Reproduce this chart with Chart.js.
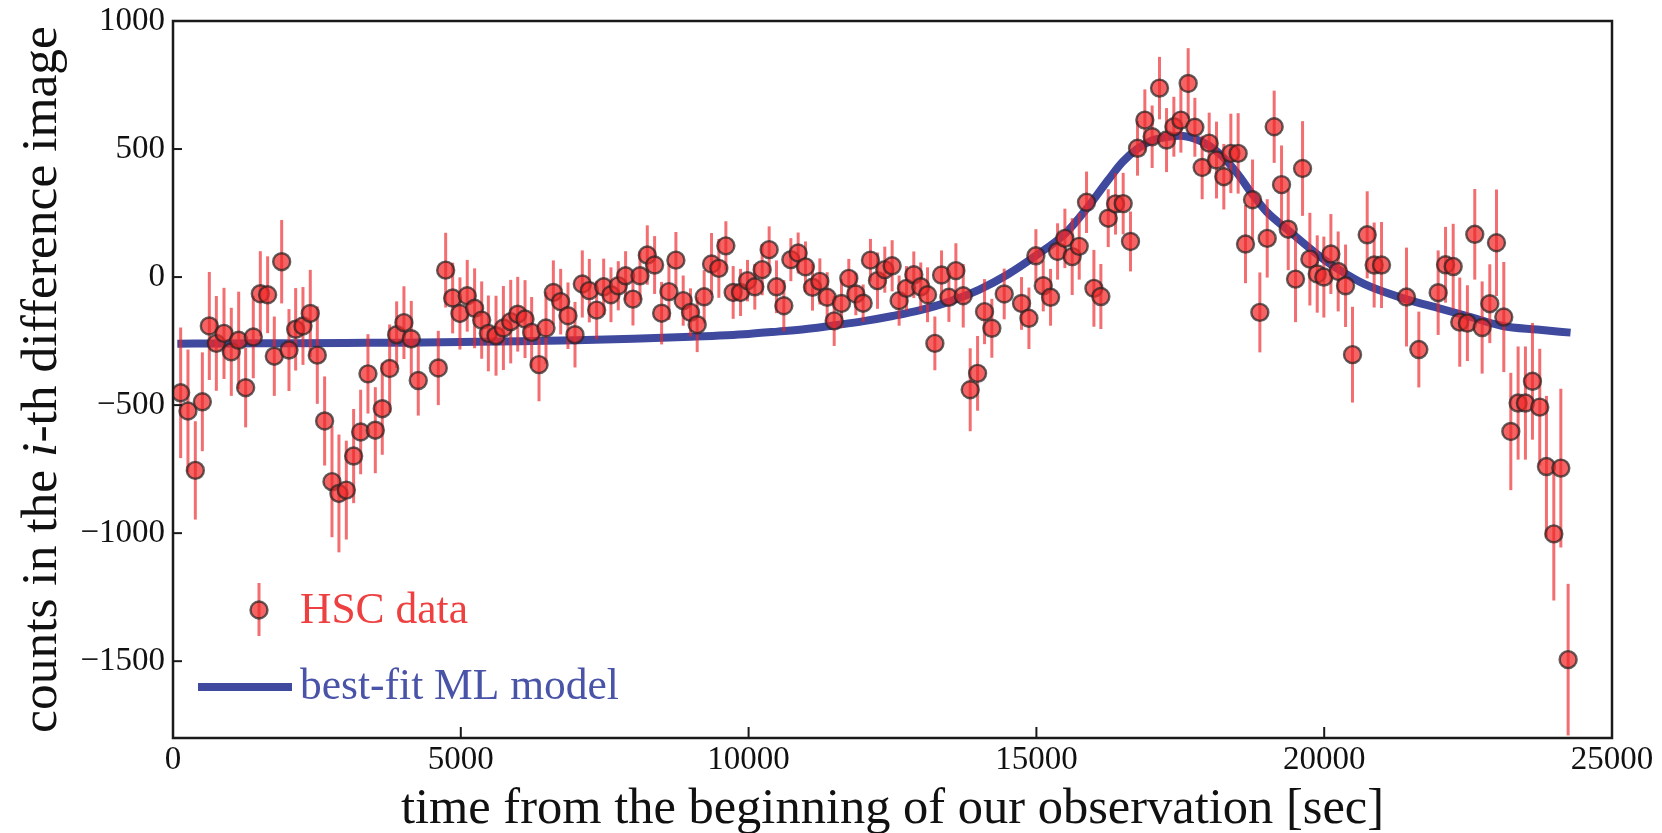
<!DOCTYPE html>
<html>
<head>
<meta charset="utf-8">
<title>HSC light curve</title>
<script src="https://cdn.jsdelivr.net/npm/chart.js@4.4.1/dist/chart.umd.min.js"></script>
<style>
  html, body { margin: 0; padding: 0; background: #fff; }
  #wrap { width: 1662px; height: 833px; }
</style>
</head>
<body>
<div id="wrap"><canvas id="lc" width="1662" height="833"></canvas></div>
<script>
// ── HSC photometry (seconds from start, counts, 1σ error) ─────────
const times = [
  133, 260, 388, 510, 631, 753, 886, 1013, 1141, 1262, 1395, 1517, 1644, 1760, 1888, 2015, 2131,
  2258, 2385, 2507, 2634, 2762, 2883, 3011, 3138, 3260, 3387, 3515, 3636, 3764, 3885, 4012, 4140, 4261,
  4609, 4737, 4858, 4985, 5112, 5240, 5363, 5479, 5612, 5740, 5867, 5989, 6116, 6231, 6359, 6480, 6608,
  6735, 6862, 6984, 7111, 7233, 7360, 7482, 7609, 7736, 7863, 7991, 8113, 8240, 8367, 8489, 8616, 8737,
  8864, 8991, 9107, 9228, 9356, 9483, 9605, 9732, 9860, 9981, 10108, 10236, 10357, 10485, 10612, 10734,
  10861, 10988, 11110, 11238, 11365, 11487, 11614, 11741, 11863, 11990, 12117, 12239, 12366, 12494, 12615,
  12743, 12870, 12991,
  13109, 13236, 13352, 13480, 13601, 13729, 13850, 13978, 14099, 14226, 14441, 14742, 14870, 14991, 15119,
  15246, 15368, 15495, 15622, 15744, 15871, 15999, 16120, 16248, 16375, 16508, 16635,
  16757, 16884, 17011, 17139, 17261, 17388, 17510, 17637, 17753, 17880, 18002, 18129, 18256, 18378, 18505,
  18633, 18755, 18882, 19010, 19131, 19259, 19375, 19502, 19624, 19751, 19879, 19994,
  20116, 20243, 20371, 20492, 20747, 20868, 20996, 21430, 21644, 21980, 22108, 22241, 22355, 22488, 22616,
  22744, 22877, 22993, 23120, 23242, 23369, 23496, 23618, 23745, 23861, 23989, 24111, 24238
];
const counts = [
  -452, -523, -755, -487, -191, -259, -220, -292, -247, -432, -234, -65, -69, -309, 60, -285, -204,
  -191, -142, -305, -562, -799, -845, -832, -699, -605, -378, -598, -514, -357, -225, -178, -241, -404,
  -355, 27, -82, -142, -73, -122, -168, -220, -229, -199, -174, -145, -164, -216, -342, -199, -60,
  -96, -151, -225, -27, -53, -129, -38, -69, -34, 5, -86, 5, 86, 47, -141, -57, 66,
  -92, -138, -186, -77, 51, 34, 122, -60, -60, -14, -38, 29, 107, -38, -112, 68,
  94, 40, -40, -17, -79, -171, -103, -5, -66, -102, 66, -14, 29, 44, -92,
  -44, 9, -38,
  -69, -259, 8, -79, 25, -73, -440, -376, -135, -200, -66, -103, -161, 83, -34,
  -79, 100, 151, 80, 120, 292, -44, -76, 230, 286, 287, 139,
  503, 613, 548, 738, 535, 587, 613, 756, 585, 428, 523, 457, 392, 483, 483,
  129, 302, -138, 151, 587, 361, 187, -8, 424, 70, 12, 0,
  90, 22, -34, -303, 165, 47, 47, -78, -283, -61, 48, 41, -176, -180, 167,
  -197, -104, 134, -156, -603, -492, -492, -407, -508, -740, -1003, -746, -1494
];
const errs = [
  255, 240, 192, 193, 211, 185, 178, 172, 190, 155, 161, 166, 150, 155, 163, 160, 161,
  152, 170, 190, 174, 217, 230, 193, 184, 165, 155, 168, 180, 172, 130, 142, 148, 137,
  145, 146, 138, 141, 140, 156, 151, 148, 156, 164, 163, 146, 152, 138, 143, 140, 125,
  128, 130, 128, 131, 124, 114, 110, 107, 96, 96, 103, 95, 116, 113, 122, 110, 110,
  98, 94, 107, 104, 121, 115, 96, 103, 92, 81, 89, 100, 91, 103, 100, 84,
  80, 99, 91, 90, 98, 98, 95, 76, 83, 73, 83, 110, 90, 100, 98,
  87, 91, 95,
  107, 105, 96, 96, 107, 124, 162, 146, 127, 115, 99, 103, 120, 104, 100,
  111, 110, 116, 150, 130, 120, 150, 127, 113, 120, 120, 117,
  107, 120, 122, 122, 125, 117, 127, 138, 115, 124, 119, 150, 128, 155, 157,
  153, 157, 156, 153, 141, 153, 160, 168, 185, 181, 151, 158,
  156, 156, 161, 187, 170, 166, 168, 193, 148, 165, 148, 167, 174, 148, 177,
  180, 154, 208, 215, 229, 221, 221, 228, 228, 276, 260, 310, 296
];

// ── best-fit ML model curve ───────────────────────────────────────
const modelTime = [
  75, 1000, 2000, 3000, 4000, 5000, 6000, 7000, 8000, 9000, 10000, 10500, 11000, 11500, 12000,
  12500, 13000, 13500, 14000, 14500, 15000, 15500, 15900, 16250, 16500, 16750, 17000, 17250, 17500,
  17750, 18000, 18250, 18500, 18750, 19000, 19375, 19750, 20000, 20250, 20700, 21400, 22000, 22450,
  23100, 23700, 24280
];
const modelCounts = [
  -260, -259, -258, -257, -256, -254, -251, -247, -241, -233, -222, -213, -203, -188, -172,
  -152, -128, -95, -50, 10, 85, 170, 275, 380, 450, 500, 533, 546, 552,
  540, 513, 467, 402, 324, 255, 183, 112, 68, 30, -28, -85, -122, -150,
  -191, -205, -217
];

const xTicks = [0, 5000, 10000, 15000, 20000, 25000];
const yTicks = [-1500, -1000, -500, 0, 500, 1000];

// ── estilos ───────────────────────────────────────────────────────
const SERIF = '"Liberation Serif", "Times New Roman", serif';
const PT_FILL = 'rgba(240,40,40,0.72)';
const PT_EDGE = 'rgba(35,35,35,0.7)';
const BAR_RED = 'rgba(236,35,40,0.66)';
const BLUE = '#3f4a9f';
const INK = '#1a1a1a';

const fmt = v => (v < 0 ? '\u2212' + Math.abs(v) : String(v));

// error bars go under the markers, clipped to the plot box
const errorBars = {
  id: 'errorBars',
  beforeDatasetDraw(chart, args) {
    if (args.index !== 0) return;
    const { ctx, chartArea: a, scales: { x, y } } = chart;
    ctx.save();
    ctx.beginPath();
    ctx.rect(a.left, a.top, a.right - a.left, a.bottom - a.top);
    ctx.clip();
    ctx.strokeStyle = BAR_RED;
    ctx.lineWidth = 3;
    times.forEach((t, i) => {
      const px = x.getPixelForValue(t);
      ctx.beginPath();
      ctx.moveTo(px, y.getPixelForValue(counts[i] - errs[i]));
      ctx.lineTo(px, y.getPixelForValue(counts[i] + errs[i]));
      ctx.stroke();
    });
    ctx.restore();
  }
};

// frame, inward ticks, axis titles and legend
const frame = {
  id: 'frame',
  afterDraw(chart) {
    const { ctx, chartArea: a, scales: { x, y } } = chart;
    ctx.save();

    // box + ticks
    ctx.strokeStyle = INK;
    ctx.lineWidth = 2.5;
    ctx.strokeRect(a.left, a.top, a.right - a.left, a.bottom - a.top);
    ctx.lineWidth = 2;
    xTicks.forEach(v => {
      const px = x.getPixelForValue(v);
      ctx.beginPath(); ctx.moveTo(px, a.bottom); ctx.lineTo(px, a.bottom - 11); ctx.stroke();
    });
    yTicks.forEach(v => {
      const py = y.getPixelForValue(v);
      ctx.beginPath(); ctx.moveTo(a.left, py); ctx.lineTo(a.left + 9, py); ctx.stroke();
    });

    // x title
    ctx.fillStyle = '#111';
    ctx.font = `50.5px ${SERIF}`;
    ctx.textAlign = 'center';
    ctx.textBaseline = 'alphabetic';
    ctx.fillText('time from the beginning of our observation [sec]', (a.left + a.right) / 2, 823);

    // y title, with a math-italic i
    const parts = [
      ['counts in the ', `51.5px ${SERIF}`],
      ['i', `italic 51.5px ${SERIF}`],
      ['-th difference image', `51.5px ${SERIF}`]
    ];
    let total = 0;
    parts.forEach(([s, f]) => { ctx.font = f; total += ctx.measureText(s).width; });
    ctx.translate(56, (a.top + a.bottom) / 2);
    ctx.rotate(-Math.PI / 2);
    ctx.textAlign = 'left';
    let cx = -total / 2;
    parts.forEach(([s, f]) => {
      ctx.font = f;
      ctx.fillText(s, cx, 0);
      cx += ctx.measureText(s).width;
    });
    ctx.setTransform(1, 0, 0, 1, 0, 0);

    // legend
    const mx = a.left + 86, my = a.top + 589;
    ctx.strokeStyle = BAR_RED;
    ctx.lineWidth = 3;
    ctx.beginPath(); ctx.moveTo(mx, my - 27); ctx.lineTo(mx, my + 26); ctx.stroke();
    ctx.beginPath();
    ctx.arc(mx, my, 8.5, 0, Math.PI * 2);
    ctx.fillStyle = PT_FILL; ctx.fill();
    ctx.strokeStyle = PT_EDGE; ctx.lineWidth = 2.4; ctx.stroke();

    ctx.strokeStyle = BLUE;
    ctx.lineWidth = 8;
    ctx.beginPath(); ctx.moveTo(a.left + 25, a.top + 666); ctx.lineTo(a.left + 119, a.top + 666); ctx.stroke();

    ctx.font = `43.5px ${SERIF}`;
    ctx.textAlign = 'left';
    ctx.textBaseline = 'middle';
    ctx.fillStyle = '#ee4040';
    ctx.fillText('HSC data', a.left + 127, my + 2);
    ctx.fillStyle = '#4953a8';
    ctx.fillText('best-fit ML model', a.left + 127, a.top + 667);

    ctx.restore();
  }
};

new Chart(document.getElementById('lc'), {
  type: 'scatter',
  data: {
    datasets: [
      {
        label: 'HSC data',
        data: times.map((t, i) => ({ x: t, y: counts[i] })),
        showLine: false,
        pointRadius: 8.5,
        pointHoverRadius: 8.5,
        pointBackgroundColor: PT_FILL,
        pointBorderColor: PT_EDGE,
        pointBorderWidth: 2.4,
        order: 0
      },
      {
        label: 'best-fit ML model',
        data: modelTime.map((t, i) => ({ x: t, y: modelCounts[i] })),
        showLine: true,
        borderColor: BLUE,
        borderWidth: 8,
        pointRadius: 0,
        cubicInterpolationMode: 'monotone',
        order: 1
      }
    ]
  },
  options: {
    responsive: false,
    devicePixelRatio: 1,
    animation: false,
    layout: { padding: { top: 21, right: 50, left: 0, bottom: 0 } },
    plugins: { legend: { display: false }, tooltip: { enabled: false } },
    scales: {
      x: {
        type: 'linear',
        min: 0,
        max: 25000,
        afterBuildTicks: ax => { ax.ticks = xTicks.map(v => ({ value: v })); },
        afterFit: ax => { ax.height = 95; ax.paddingLeft = 0; ax.paddingRight = 0; },
        grid: { display: false, drawTicks: false },
        border: { display: false },
        ticks: {
          font: { family: SERIF, size: 33 },
          color: '#111',
          padding: 3,
          maxRotation: 0,
          autoSkip: false,
          callback: fmt
        }
      },
      y: {
        type: 'linear',
        min: -1800,
        max: 1000,
        afterBuildTicks: ax => { ax.ticks = yTicks.map(v => ({ value: v })); },
        afterFit: ax => { ax.width = 173; ax.paddingTop = 0; ax.paddingBottom = 0; },
        grid: { display: false, drawTicks: false },
        border: { display: false },
        ticks: {
          font: { family: SERIF, size: 33 },
          color: '#111',
          padding: 8,
          autoSkip: false,
          callback: fmt
        }
      }
    }
  },
  plugins: [errorBars, frame]
});
</script>
</body>
</html>
